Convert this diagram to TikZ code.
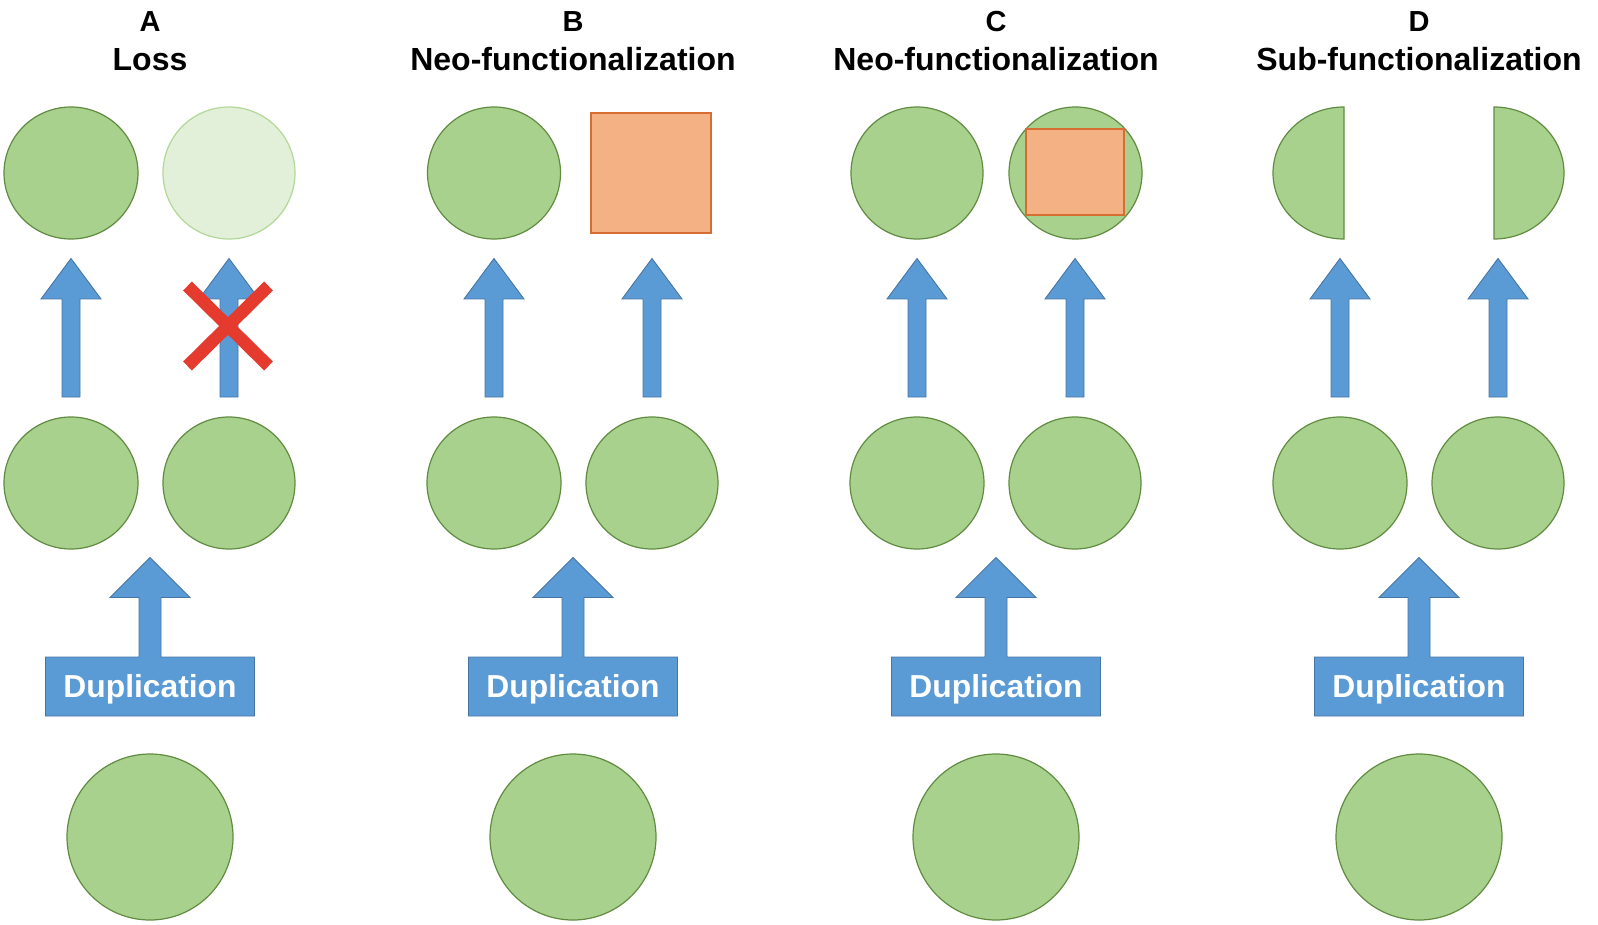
\documentclass[tikz,border=0pt]{standalone}
\usepackage{fontspec}
\setmainfont{Liberation Sans}
\usetikzlibrary{shapes.geometric,calc}
\definecolor{gfill}{RGB}{169,209,142}
\definecolor{gline}{RGB}{96,140,64}
\definecolor{lfill}{RGB}{226,240,218}
\definecolor{lline}{RGB}{178,216,152}
\definecolor{bfill}{RGB}{91,155,213}
\definecolor{bline}{RGB}{70,118,165}
\definecolor{ofill}{RGB}{244,177,131}
\definecolor{oline}{RGB}{214,110,52}
\definecolor{xred}{RGB}{229,58,46}
\begin{document}
\begin{tikzpicture}[x=1pt,y=-1pt,
  gene/.style={ellipse, draw=gline, fill=gfill, line width=1.2pt, inner sep=0pt},
  lostgene/.style={ellipse, draw=lline, fill=lfill, line width=1.2pt, inner sep=0pt},
  newfn/.style={rectangle, draw=oline, fill=ofill, line width=1.3pt, inner sep=0pt},
  blockarrow/.style={fill=bfill, draw=bline, line width=0.9pt, line join=miter},
  halfgene/.style={fill=gfill, draw=gline, line width=1.2pt},
  lettertext/.style={anchor=base, inner sep=0pt, font=\fontsize{29}{31}\selectfont\bfseries},
  nametext/.style={anchor=base, inner sep=0pt, font=\fontsize{32}{34}\selectfont\bfseries},
  duptext/.style={anchor=base, inner sep=0pt, text=white, font=\fontsize{31.8}{34}\selectfont\bfseries},
  cross/.style={draw=xred, line width=12.5pt, line cap=butt}]
\useasboundingbox (0,0) rectangle (1598,925);
\foreach \k/\t/\n in {0/A/Loss,1/B/Neo-functionalization,2/C/Neo-functionalization,3/D/Sub-functionalization}{
  \pgfmathsetmacro\cx{150+423*\k}
  \pgfmathsetmacro\lx{71+423*\k}
  \pgfmathsetmacro\rx{229+423*\k}
  % titles
  \node[lettertext] (letter-\k) at (\cx,32) {\t};
  \node[nametext] (name-\k) at (\cx,71) {\n};
  % upper arrows
  \draw[blockarrow] (\lx,258.5) -- ({\lx+30},299) -- ({\lx+9},299) -- ({\lx+9},397)
     -- ({\lx-9},397) -- ({\lx-9},299) -- ({\lx-30},299) -- cycle;
  \draw[blockarrow] (\rx,258.5) -- ({\rx+30},299) -- ({\rx+9},299) -- ({\rx+9},397)
     -- ({\rx-9},397) -- ({\rx-9},299) -- ({\rx-30},299) -- cycle;
  % middle genes
  \node[gene, minimum width=134pt, minimum height=132pt] (mid1-\k) at (\lx,483) {};
  \node[gene, minimum width=132pt, minimum height=132pt] (mid2-\k) at (\rx,483) {};
  % duplication callout
  \draw[blockarrow] (\cx,557.5) -- ({\cx+40},597.5) -- ({\cx+11},597.5) -- ({\cx+11},657)
     -- ({\cx+104.5},657) -- ({\cx+104.5},716) -- ({\cx-104.5},716) -- ({\cx-104.5},657)
     -- ({\cx-11},657) -- ({\cx-11},597.5) -- ({\cx-40},597.5) -- cycle;
  \node[duptext] (dup-\k) at (\cx,697) {Duplication};
  % ancestral gene
  \node[gene, minimum width=166pt, minimum height=166pt] (anc-\k) at (\cx,837) {};
}
% Panel A: loss
\node[gene, minimum width=134pt, minimum height=132pt] (a-top1) at (71,173) {};
\node[lostgene, minimum width=132pt, minimum height=132pt] (a-top2) at (229,173) {};
\coordinate (xc) at (228,326);
\draw[cross] ($(xc)+(-40.5,-40)$) -- ($(xc)+(40.5,40)$);
\draw[cross] ($(xc)+(40.5,-40)$) -- ($(xc)+(-40.5,40)$);
% Panel B: neo-functionalization (new function)
\node[gene, minimum width=133pt, minimum height=132pt] (b-top1) at (494,173) {};
\node[newfn, minimum width=120pt, minimum height=120pt] (b-top2) at (651,173) {};
% Panel C: neo-functionalization (added function)
\node[gene, minimum width=132pt, minimum height=132pt] (c-top1) at (917,173) {};
\node[gene, minimum width=133pt, minimum height=132pt] (c-top2) at (1075.5,173) {};
\node[newfn, minimum width=98pt, minimum height=86pt] (c-top3) at (1075,172) {};
% Panel D: sub-functionalization
\draw[halfgene] (1344,239) arc[start angle=90, end angle=270, x radius=71, y radius=66] -- cycle;
\draw[halfgene] (1494,107) arc[start angle=-90, end angle=90, x radius=70, y radius=66] -- cycle;
\end{tikzpicture}
\end{document}
